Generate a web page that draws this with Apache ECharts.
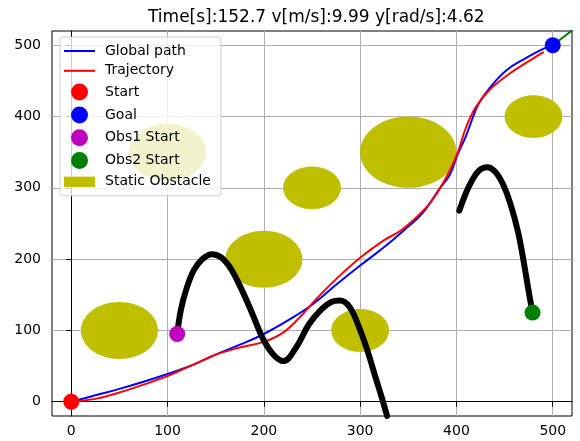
<!DOCTYPE html>
<html>
<head>
<meta charset="utf-8">
<script src="https://cdn.jsdelivr.net/npm/echarts@6/dist/echarts.min.js"></script>
<style>
  html, body { margin: 0; padding: 0; background: #fff; }
  #chart { width: 580px; height: 441px; }
</style>
</head>
<body>
<div id="chart"></div>
<script>
// tick labels
const xTicks = [0, 100, 200, 300, 400, 500];
const yTicks = [0, 100, 200, 300, 400, 500];

// static obstacles: centre and radius in data units
const obstacleX = [50, 100, 200, 250, 300, 350, 480];
const obstacleY = [100, 350, 200, 300, 100, 350, 400];
const obstacleR = [40, 40, 40, 30, 30, 50, 30];

// global path
const globalX = [0, 25, 50, 75, 100, 125, 150, 175, 200, 225, 250, 275, 300, 325, 345, 365, 382, 393, 401, 410, 416, 423, 435, 452, 472, 490, 500];
const globalY = [0, 9, 18, 28, 39, 51, 66, 80, 95, 114, 136, 164, 191, 217, 240, 265, 298, 318, 346, 373, 395, 418, 441, 465, 482, 495, 500];

// trajectory
const trajX = [0, 25, 50, 75, 100, 125, 150, 175, 200, 220, 237, 255, 275, 300, 323, 344, 369, 380, 393, 402, 410, 420, 434, 455, 479, 490];
const trajY = [0, 4, 13, 24, 36, 51, 66, 76, 84, 97, 118, 145, 172, 202, 225, 242, 273, 293, 324, 352, 385, 413, 437, 460, 481, 490];

// moving obstacle paths
const obs1X = [110, 114, 120, 127, 136, 146, 156, 166, 176, 186, 193, 200, 210, 220, 233, 247, 260, 270, 279, 289, 299, 308, 316, 322, 328];
const obs1Y = [95, 130, 160, 184, 200, 207, 202, 186, 160, 130, 107, 86, 66, 57, 75, 109, 130, 140, 142, 133, 104, 70, 34, 8, -20];
const obs2X = [479, 475, 470, 464, 456, 448, 440, 432, 424, 416, 409, 403];
const obs2Y = [125, 155, 195, 238, 278, 306, 323, 329, 325, 310, 290, 268];

// segment past the goal
const greenX = [500, 530];
const greenY = [500, 531];

// start points
const startPt = [0, 0];
const goalPt = [500, 500];
const obs1StartPt = [110, 95];
const obs2StartPt = [479, 125];

const zip = (xs, ys) => xs.map((x, i) => [x, ys[i]]);
const FONT = 'DejaVu Sans';
const LINE_ICON = 'path://M0,0 L30,0 L30,2 L0,2 Z';

const chart = echarts.init(document.getElementById('chart'));

function lineSeries(name, xs, ys, color, width, z) {
  return {
    name: name,
    type: 'line',
    data: zip(xs, ys),
    smooth: 0.4,
    symbol: 'none',
    z: z,
    lineStyle: { color: color, width: width, cap: 'round', join: 'round' },
    itemStyle: { color: color },
    emphasis: { disabled: true }
  };
}

function pointSeries(name, pt, color) {
  return {
    name: name,
    type: 'scatter',
    data: [pt],
    symbol: 'circle',
    symbolSize: 16,
    z: 10,
    itemStyle: { color: color, opacity: 1 },
    emphasis: { disabled: true }
  };
}

const axisCommon = {
  type: 'value',
  axisLine: { show: true, lineStyle: { color: '#000', width: 1 } },
  axisTick: { show: true, inside: false, length: 5, lineStyle: { color: '#000', width: 1 } },
  splitLine: { show: true, lineStyle: { color: '#b0b0b0', width: 1 } },
  axisLabel: { color: '#000', fontFamily: FONT, fontSize: 14 }
};

const option = {
  animation: false,
  backgroundColor: '#fff',
  title: {
    text: 'Time[s]:152.7 v[m/s]:9.99 y[rad/s]:4.62',
    left: 143,
    top: 4,
    textStyle: { fontFamily: FONT, fontSize: 17, fontWeight: 'normal', color: '#000' }
  },
  grid: {
    left: 52, right: 8, top: 31, bottom: 25,
    show: true, borderColor: '#000', borderWidth: 1, backgroundColor: 'transparent'
  },
  legend: {
    orient: 'vertical',
    left: 60,
    top: 37,
    selectedMode: false,
    backgroundColor: 'rgba(255,255,255,0.8)',
    borderColor: '#cccccc',
    borderWidth: 1,
    borderRadius: 3,
    padding: [7, 10, 7, 4],
    itemWidth: 31,
    itemHeight: 17,
    itemGap: 5.8,
    textStyle: { fontFamily: FONT, fontSize: 14, color: '#000', padding: [0, 0, 0, 5] },
    data: [
      { name: 'Global path', icon: LINE_ICON },
      { name: 'Trajectory', icon: LINE_ICON },
      { name: 'Start', icon: 'circle' },
      { name: 'Goal', icon: 'circle' },
      { name: 'Obs1 Start', icon: 'circle' },
      { name: 'Obs2 Start', icon: 'circle' },
      { name: 'Static Obstacle', icon: 'path://M0,0 L30,0 L30,10 L0,10 Z' }
    ]
  },
  xAxis: Object.assign({}, axisCommon, {
    min: -20, max: 520,
    axisTick: Object.assign({}, axisCommon.axisTick, { customValues: xTicks }),
    axisLabel: Object.assign({}, axisCommon.axisLabel, { customValues: xTicks, margin: 8 })
  }),
  yAxis: Object.assign({}, axisCommon, {
    min: -20, max: 520,
    axisTick: Object.assign({}, axisCommon.axisTick, { customValues: yTicks }),
    axisLabel: Object.assign({}, axisCommon.axisLabel, { customValues: yTicks, margin: 11 })
  }),
  series: [
    {
      name: 'Static Obstacle',
      type: 'custom',
      z: 1,
      clip: true,
      itemStyle: { color: '#bfbf00' },
      data: obstacleX.map((x, i) => [x, obstacleY[i], obstacleR[i]]),
      renderItem: function (params, api) {
        const c = api.coord([api.value(0), api.value(1)]);
        const s = api.size([api.value(2), api.value(2)]);
        return {
          type: 'ellipse',
          shape: { cx: c[0], cy: c[1], rx: s[0], ry: s[1] },
          style: { fill: '#bfbf00' }
        };
      }
    },
    lineSeries('Global path', globalX, globalY, '#0000ff', 2, 3),
    lineSeries('Trajectory', trajX, trajY, '#ff0000', 2, 4),
    lineSeries('Obs1 path', obs1X, obs1Y, '#000000', 6, 5),
    lineSeries('Obs2 path', obs2X, obs2Y, '#000000', 6, 5),
    lineSeries('Obs2 line', greenX, greenY, '#008000', 2, 2),
    pointSeries('Start', startPt, '#ff0000'),
    pointSeries('Goal', goalPt, '#0000ff'),
    pointSeries('Obs1 Start', obs1StartPt, '#bf00bf'),
    pointSeries('Obs2 Start', obs2StartPt, '#008000')
  ]
};

chart.setOption(option);
</script>
</body>
</html>
